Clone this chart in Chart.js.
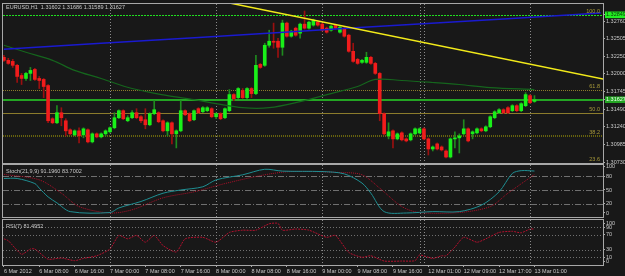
<!DOCTYPE html>
<html>
<head>
<meta charset="utf-8">
<script src="https://cdn.jsdelivr.net/npm/chart.js@4.4.1/dist/chart.umd.min.js"></script>
<style>
  html, body { margin: 0; padding: 0; background: #181818; }
  #wrap { position: relative; width: 625px; height: 276px; overflow: hidden; background: #181818; }
  #wrap canvas { position: absolute; left: 0; }
</style>
</head>
<body>
<div id="wrap">
  <canvas id="mainChart" width="625" height="165" style="top:0px"></canvas>
  <canvas id="stochChart" width="625" height="56" style="top:163px"></canvas>
  <canvas id="rsiChart" width="625" height="58" style="top:218px"></canvas>
</div>
<script>
// EURUSD H1 candles, bar 0 = 6 Mar 2012 00:00, last bar = 13 Mar 01:00
var opens = [1.32237,1.32194,1.32179,1.32122,1.31976,1.31933,1.32006,1.32063,1.31933,1.31919,
  1.31831,1.31353,1.31295,1.31440,1.31324,1.31194,1.31121,1.31179,1.31121,1.31194,
  1.31020,1.31136,1.31092,1.31136,1.31165,1.31223,1.31368,1.31469,1.31324,1.31368,
  1.31440,1.31382,1.31339,1.31266,1.31426,1.31440,1.31324,1.31179,1.31295,1.31136,
  1.31179,1.31469,1.31426,1.31339,1.31498,1.31454,1.31469,1.31498,1.31382,1.31426,
  1.31368,1.31469,1.31701,1.31657,1.31759,1.31657,1.31788,1.31715,1.32136,1.32122,
  1.32411,1.32469,1.32469,1.32382,1.32730,1.32541,1.32657,1.32585,1.32715,1.32657,
  1.32701,1.32744,1.32715,1.32657,1.32628,1.32701,1.32599,1.32657,1.32556,1.32324,
  1.32208,1.32165,1.32165,1.32237,1.32150,1.32006,1.31426,1.31107,1.31179,1.31063,
  1.31150,1.31063,1.31049,1.31136,1.31150,1.31208,1.31063,1.30918,1.30991,1.30947,
  1.30889,1.30802,1.31063,1.31078,1.31136,1.31208,1.31136,1.31150,1.31208,1.31179,
  1.31237,1.31368,1.31440,1.31483,1.31512,1.31469,1.31541,1.31469,1.31541,1.31686,
  1.31602];
var highs = [1.32266,1.32223,1.32208,1.32136,1.32006,1.32020,1.32092,1.32078,1.31962,1.31933,
  1.31846,1.31368,1.31541,1.31512,1.31353,1.31208,1.31194,1.31223,1.31223,1.31208,
  1.31150,1.31150,1.31150,1.31194,1.31237,1.31440,1.31483,1.31483,1.31397,1.31469,
  1.31498,1.31397,1.31498,1.31440,1.31614,1.31454,1.31339,1.31310,1.31310,1.31194,
  1.31614,1.31483,1.31440,1.31483,1.31512,1.31527,1.31527,1.31512,1.31440,1.31440,
  1.31512,1.31773,1.31715,1.31802,1.31788,1.31802,1.31802,1.32266,1.32150,1.32440,
  1.32628,1.32730,1.32512,1.32773,1.32744,1.32628,1.32672,1.32730,1.32904,1.32759,
  1.32788,1.32759,1.32730,1.32672,1.32701,1.32715,1.32686,1.32672,1.32570,1.32440,
  1.32223,1.32208,1.32310,1.32252,1.32165,1.32020,1.31440,1.31295,1.31194,1.31150,
  1.31165,1.31078,1.31150,1.31223,1.31223,1.31223,1.31078,1.30962,1.31005,1.30962,
  1.30904,1.31078,1.31165,1.31136,1.31339,1.31223,1.31179,1.31223,1.31223,1.31252,
  1.31397,1.31469,1.31498,1.31498,1.31527,1.31556,1.31556,1.31585,1.31730,1.31701,
  1.31686];
var lows = [1.32179,1.32136,1.32092,1.31875,1.31846,1.31904,1.31904,1.31904,1.31788,1.31657,
  1.31295,1.31281,1.31281,1.31252,1.31107,1.31121,1.31107,1.31005,1.31078,1.31005,
  1.31005,1.31078,1.31078,1.31107,1.31150,1.31208,1.31353,1.31339,1.31310,1.31353,
  1.31353,1.31295,1.31208,1.31252,1.31411,1.31295,1.31165,1.31107,1.30991,1.30933,
  1.31165,1.31397,1.31310,1.31324,1.31426,1.31440,1.31454,1.31368,1.31353,1.31339,
  1.31353,1.31454,1.31614,1.31643,1.31643,1.31643,1.31657,1.31701,1.32078,1.32107,
  1.32382,1.32368,1.32237,1.32266,1.32527,1.32527,1.32541,1.32512,1.32643,1.32643,
  1.32686,1.32686,1.32614,1.32585,1.32614,1.32643,1.32585,1.32527,1.32310,1.32165,
  1.32136,1.32150,1.32150,1.32136,1.31991,1.31324,1.31121,1.31063,1.30933,1.31049,
  1.31034,1.31020,1.31034,1.31121,1.31136,1.31049,1.30831,1.30889,1.30904,1.30889,
  1.30788,1.30788,1.30933,1.30860,1.31121,1.31020,1.31063,1.31136,1.31165,1.31165,
  1.31223,1.31353,1.31426,1.31426,1.31426,1.31454,1.31454,1.31454,1.31527,1.31570,
  1.31589];
var closes = [1.32194,1.32150,1.32122,1.31962,1.31933,1.32006,1.32049,1.31919,1.31904,1.31817,
  1.31324,1.31295,1.31440,1.31368,1.31179,1.31136,1.31179,1.31107,1.31208,1.31020,
  1.31136,1.31092,1.31136,1.31179,1.31223,1.31368,1.31469,1.31353,1.31368,1.31440,
  1.31368,1.31324,1.31266,1.31426,1.31483,1.31310,1.31179,1.31295,1.31136,1.31179,
  1.31469,1.31411,1.31324,1.31469,1.31440,1.31512,1.31512,1.31382,1.31426,1.31353,
  1.31498,1.31701,1.31643,1.31788,1.31657,1.31788,1.31715,1.32122,1.32092,1.32411,
  1.32469,1.32454,1.32382,1.32730,1.32541,1.32614,1.32556,1.32715,1.32657,1.32744,
  1.32773,1.32701,1.32628,1.32599,1.32686,1.32657,1.32672,1.32541,1.32324,1.32179,
  1.32150,1.32194,1.32237,1.32150,1.32006,1.31426,1.31136,1.31165,1.31063,1.31136,
  1.31049,1.31034,1.31136,1.31208,1.31208,1.31063,1.30918,1.30947,1.30918,1.30904,
  1.30802,1.31063,1.31078,1.31107,1.31208,1.31034,1.31165,1.31208,1.31179,1.31237,
  1.31382,1.31454,1.31483,1.31440,1.31440,1.31541,1.31469,1.31570,1.31701,1.31585,
  1.31627];

// moving averages (read at a few bars)
var blueMaIdx = [0, 22, 45, 67, 90, 113, 135];
var blueMaVal = [1.32353, 1.32440, 1.32527, 1.32614, 1.32701, 1.32788, 1.32875];
var greenMaIdx = [0, 5, 11, 16, 22, 29, 37, 43, 48, 54, 60, 67, 74, 80, 84, 90, 97, 103, 110, 120];
var greenMaVal = [1.32411, 1.32310, 1.32194, 1.32049, 1.31933, 1.31788, 1.31686, 1.31628, 1.31570, 1.31512,
  1.31512, 1.31599, 1.31715, 1.31817, 1.31919, 1.31904, 1.31875, 1.31846, 1.31802, 1.31773];

// trend line and horizontal levels
var trendIdx = [51, 136];
var trendVal = [1.33020, 1.31919];
var fibNames = ['100.0', '61.8', '50.0', '38.2', '23.6'];
var fibPrices = [1.32849, 1.31773, 1.31440, 1.31108, 1.30697];
var bidPrice = 1.31627;

// stochastic (21,9,9)
var stochIdx = [0, 3, 7, 8, 10, 12, 15, 24, 26, 31, 36, 40, 45, 48, 54, 59, 63, 72, 77, 81, 83, 86, 91, 97, 103, 108, 112, 115, 117, 120];
var stochMain = [75, 75, 64, 54, 35, 22, 3, 1, 11, 25, 43, 50, 57, 72, 83, 95, 91, 90, 85, 65, 43, 3, 0, 3, 3, 17, 46, 86, 92, 91.2];
var signalIdx = [0, 8, 13, 17, 24, 29, 36, 43, 50, 59, 65, 76, 81, 85, 90, 94, 103, 110, 114, 120];
var stochSignal = [84, 72, 43, 14, 0, 7, 33, 46, 64, 83, 90, 88, 83, 54, 14, 1, 1, 14, 43, 83.7];

// RSI(7)
var rsiIdx = [0, 1, 4, 6, 7, 10, 13, 16, 18, 21, 24, 26, 28, 30, 32, 34, 36, 39, 41, 45, 48, 51, 54, 57, 60, 62, 63, 66, 69, 73,
  75, 78, 81, 83, 86, 90, 93, 94, 97, 99, 100, 102, 104, 107, 109, 112, 115, 117, 119, 120];
var rsiVal = [59, 54, 18, 32, 32, 5, 8, 1, 7, 14, 32, 68, 59, 68, 50, 68, 41, 24, 59, 63, 50, 76, 82, 82, 99, 100, 82, 85, 82, 63,
  68, 23, 10, 14, 0, 0, 1, 16, 7, 14, 14, 37, 63, 50, 59, 76, 79, 75, 85, 85];

// axes
var timeTickIdx = [0, 8, 16, 24, 32, 40, 48, 56, 64, 72, 80, 88, 96, 104, 112, 120];
var timeTickLabels = ['6 Mar 2012', '6 Mar 08:00', '6 Mar 16:00', '7 Mar 00:00', '7 Mar 08:00', '7 Mar 16:00',
  '8 Mar 00:00', '8 Mar 08:00', '8 Mar 16:00', '9 Mar 00:00', '9 Mar 08:00', '9 Mar 16:00',
  '12 Mar 01:00', '12 Mar 09:00', '12 Mar 17:00', '13 Mar 01:00'];
var gridIdx = [24, 48, 72, 94, 95, 119];
var priceTicks = [1.32760, 1.32505, 1.32250, 1.32000, 1.31745, 1.31490, 1.31240, 1.30985, 1.30730];
var stochTicks = [0, 20, 50, 80, 100];
var stochLevels = [80, 50, 20];
var rsiTicks = [0, 10, 30, 70, 90, 100];
var rsiLevels = [90, 70, 30, 10];

var FONT = { family: 'Liberation Sans', size: 5.5 };
var TXT = '#c8c8c8';
var X_MIN = -0.2, X_MAX = 135.5;

function pts(idx, vals) {
    return idx.map(function(x, i) { return { x: x, y: vals[i] }; });
}

// draws grid lines, level lines, panel frame and texts through the chart's own scales
function deco(cfg) {
    return {
        id: 'deco',
        beforeDatasetsDraw: function(chart) {
            var ctx = chart.ctx, a = chart.chartArea, sx = chart.scales.x, sy = chart.scales.y;
            ctx.save();
            ctx.beginPath(); ctx.rect(a.left, a.top, a.width, a.height); ctx.clip();
            gridIdx.forEach(function(v) {
                var px = Math.round(sx.getPixelForValue(v)) + 0.5;
                ctx.strokeStyle = '#8a8a8a'; ctx.lineWidth = 1; ctx.setLineDash([1, 2]);
                ctx.beginPath(); ctx.moveTo(px, a.top); ctx.lineTo(px, a.bottom); ctx.stroke();
            });
            (cfg.hLines || []).forEach(function(h) {
                var py = Math.round(sy.getPixelForValue(h.value)) + (h.width % 2 ? 0.5 : 0);
                ctx.strokeStyle = h.color; ctx.lineWidth = h.width; ctx.setLineDash(h.dash || []);
                ctx.beginPath(); ctx.moveTo(a.left, py); ctx.lineTo(a.right, py); ctx.stroke();
            });
            ctx.restore();
        },
        afterDraw: function(chart) {
            var ctx = chart.ctx, a = chart.chartArea, sy = chart.scales.y;
            ctx.save();
            ctx.strokeStyle = '#a8a8a8'; ctx.lineWidth = 1; ctx.setLineDash([]);
            ctx.strokeRect(a.left - 0.5, a.top - 0.5, a.width + 1, a.height + 1);
            ctx.font = FONT.size + 'px "' + FONT.family + '"';
            ctx.textBaseline = 'middle';
            (cfg.texts || []).forEach(function(t) {
                ctx.fillStyle = t.color || TXT;
                ctx.textAlign = t.align || 'left';
                var y = t.value !== undefined ? sy.getPixelForValue(t.value) - 3 : a.top + t.dy;
                var x = t.align === 'right' ? a.right - 3 : a.left + 3;
                ctx.fillText(t.text, x, y);
            });
            ctx.restore();
        }
    };
}

function yAxis(min, max, ticks, extra) {
    var ax = {
        position: 'right', min: min, max: max,
        afterBuildTicks: function(s) { s.ticks = ticks.slice().sort(function(a, b) { return a - b; }).map(function(v) { return { value: v }; }); },
        afterFit: function(s) { s.width = 22; s.paddingTop = 0; s.paddingBottom = 0; },
        grid: { drawOnChartArea: false, color: '#a8a8a8', tickLength: 2 },
        border: { display: false },
        ticks: { font: FONT, color: TXT, padding: 1, autoSkip: false }
    };
    if (extra) Object.assign(ax.ticks, extra);
    return ax;
}

function xAxis(show) {
    return {
        type: 'linear', min: X_MIN, max: X_MAX, offset: false, display: show,
        afterBuildTicks: function(s) { s.ticks = timeTickIdx.map(function(v) { return { value: v }; }); },
        afterFit: function(s) { s.height = show ? 10 : 0; s.paddingLeft = 0; s.paddingRight = 0; },
        grid: { drawOnChartArea: false, color: '#a8a8a8', tickLength: 2 },
        border: { display: false },
        ticks: {
            font: FONT, color: TXT, padding: 1, autoSkip: false, maxRotation: 0, align: 'start',
            callback: function(v) { return timeTickLabels[timeTickIdx.indexOf(v)]; }
        }
    };
}

function baseOptions(pad, scales) {
    return {
        responsive: false, animation: false, devicePixelRatio: 1,
        layout: { padding: { left: 3, right: 0, top: pad[0], bottom: pad[1] } },
        plugins: { legend: { display: false }, tooltip: { enabled: false } },
        scales: scales
    };
}

// --- main price chart ---
var bodyData = [], wickData = [], bodyColors = [], wickColors = [];
opens.forEach(function(o, i) {
    var up = closes[i] >= o;
    bodyData.push({ x: i, y: [o, closes[i]] });
    wickData.push({ x: i, y: [lows[i], highs[i]] });
    bodyColors.push(up ? '#19f019' : '#f01c1c');
    wickColors.push(up ? '#1f8a1f' : '#9a1010');
});

var markerPrices = [fibPrices[0], bidPrice];
var fibStyles = [
    { color: '#20e020', width: 1, dash: [2, 1] },
    { color: '#8c7c2c', width: 1, dash: [1, 1] },
    { color: '#8c7c2c', width: 1, dash: [] },
    { color: '#66620e', width: 2, dash: [1, 1] },
    { color: '#8c7c2c', width: 1, dash: [1, 1] }
];
var mainLines = fibPrices.map(function(p, i) {
    return { value: p, color: fibStyles[i].color, width: fibStyles[i].width, dash: fibStyles[i].dash };
});
mainLines.push({ value: bidPrice, color: '#23a523', width: 2, dash: [] });
var mainTexts = fibNames.map(function(n, i) {
    return { text: n, value: fibPrices[i] + (i === 4 ? 0.0003 : 0), align: 'right', color: '#a89a3a' };
});
mainTexts.push({ text: 'EURUSD,H1  1.31602 1.31686 1.31589 1.31627', dy: 3 });

new Chart(document.getElementById('mainChart'), {
    type: 'bar',
    data: {
        datasets: [
            { type: 'line', data: pts(trendIdx, trendVal), borderColor: '#f2ea1a', borderWidth: 1.5, pointRadius: 0, order: 0 },
            { type: 'line', data: pts(blueMaIdx, blueMaVal), borderColor: '#1a1ad0', borderWidth: 1.5, pointRadius: 0, tension: 0.3, order: 0 },
            { type: 'line', data: pts(greenMaIdx, greenMaVal), borderColor: '#15651d', borderWidth: 1.2, pointRadius: 0, tension: 0.35, order: 0 },
            { data: bodyData, backgroundColor: bodyColors, barThickness: 3, grouped: false, minBarLength: 1, order: 1 },
            { data: wickData, backgroundColor: wickColors, barThickness: 1, grouped: false, order: 2 }
        ]
    },
    options: baseOptions([4, 2], {
        x: xAxis(false),
        y: yAxis(1.30716, 1.33005, priceTicks.concat(markerPrices), {
            callback: function(v) { return v.toFixed(5); },
            showLabelBackdrop: function(c) { return markerPrices.indexOf(c.tick.value) >= 0; },
            backdropColor: function(c) { return c.tick.value === bidPrice ? '#23a523' : '#22ee22'; },
            backdropPadding: { top: 0, bottom: 0, left: 1, right: 3 },
            color: function(c) {
                if (c.tick.value === bidPrice) return '#f0fff0';
                if (c.tick.value === fibPrices[0]) return '#0a3a0a';
                return TXT;
            }
        })
    }),
    plugins: [deco({ hLines: mainLines, texts: mainTexts })]
});

// --- stochastic panel ---
new Chart(document.getElementById('stochChart'), {
    type: 'line',
    data: {
        datasets: [
            { data: pts(stochIdx, stochMain), borderColor: '#1f8f93', borderWidth: 1, pointRadius: 0, tension: 0.3 },
            { data: pts(signalIdx, stochSignal), borderColor: '#b0102a', borderWidth: 1, borderDash: [1, 1], pointRadius: 0, tension: 0.3 }
        ]
    },
    options: baseOptions([2, 2], {
        x: xAxis(false),
        y: yAxis(-8.7, 104.3, stochTicks)
    }),
    plugins: [deco({
        hLines: stochLevels.map(function(v) { return { value: v, color: '#707070', width: 1, dash: [6, 2, 1, 2] }; }),
        texts: [{ text: 'Stoch(21,9,9) 91.1960 83.7002', dy: 6 }]
    })]
});

// --- RSI panel ---
new Chart(document.getElementById('rsiChart'), {
    type: 'line',
    data: {
        datasets: [
            { data: pts(rsiIdx, rsiVal), borderColor: '#b3102e', borderWidth: 1, borderDash: [2, 1], pointRadius: 0, tension: 0.2 }
        ]
    },
    options: baseOptions([2, 1], {
        x: xAxis(true),
        y: yAxis(-10.5, 109, rsiTicks)
    }),
    plugins: [deco({
        hLines: rsiLevels.map(function(v) { return { value: v, color: '#707070', width: 1, dash: [1, 2] }; }),
        texts: [{ text: 'RSI(7) 81.4952', dy: 6 }]
    })]
});
</script>
</body>
</html>
